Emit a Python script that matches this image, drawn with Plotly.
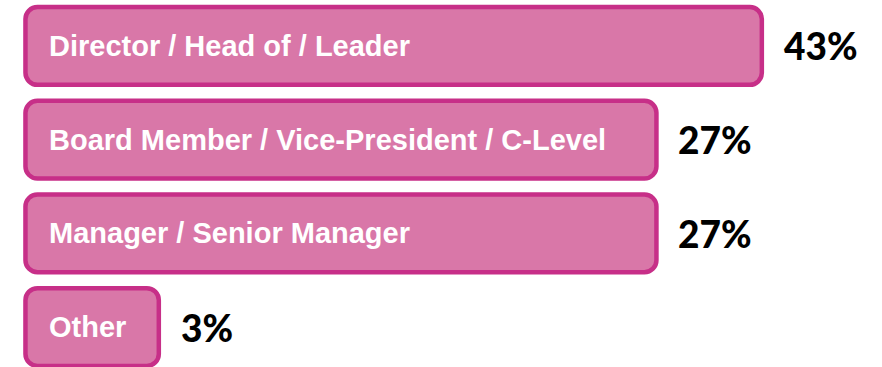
import numpy as np
import plotly.graph_objects as go

categories = ["Director / Head of / Leader",
              "Board Member / Vice-President / C-Level",
              "Manager / Senior Manager",
              "Other"]
values = [43, 27, 27, 3]
value_labels = ["43%", "27%", "27%", "3%"]

FILL = "#D977A8"
EDGE = "#C72F88"
BASE = 1.665  # common start of every bar on the log axis

fig = go.Figure()
fig.add_trace(go.Bar(
    x=[v - BASE for v in values], y=categories, orientation="h", base=BASE,
    marker=dict(color=FILL, line=dict(color=EDGE, width=4.5), cornerradius=12),
    width=0.83, hoverinfo="skip", showlegend=False,
))

annotations = []
for c, v, t in zip(categories, values, value_labels):
    annotations.append(dict(
        x=np.log10(BASE), y=c, xref="x", yref="y", text="<b>" + c + "</b>",
        showarrow=False, xanchor="left", yanchor="middle", xshift=22,
        font=dict(family="Liberation Sans, Arial, sans-serif", size=29, color="white"),
    ))
    annotations.append(dict(
        x=np.log10(v), y=c, xref="x", yref="y", text=t,
        showarrow=False, xanchor="left", yanchor="middle", xshift=20,
        font=dict(family="Lato, sans-serif", size=37, color="black", weight=900),
    ))

fig.update_layout(
    width=882, height=367,
    margin=dict(l=0, r=0, t=0, b=0),
    paper_bgcolor="white", plot_bgcolor="white",
    xaxis=dict(type="log", range=[0.1726, 1.8639], visible=False, showgrid=False),
    yaxis=dict(type="category", categoryarray=categories, range=[3.427, -0.491],
               visible=False, showgrid=False),
    annotations=annotations,
)

fig.write_html("out.html", config={"displayModeBar": False},
               post_script="document.body.style.margin='0';")
